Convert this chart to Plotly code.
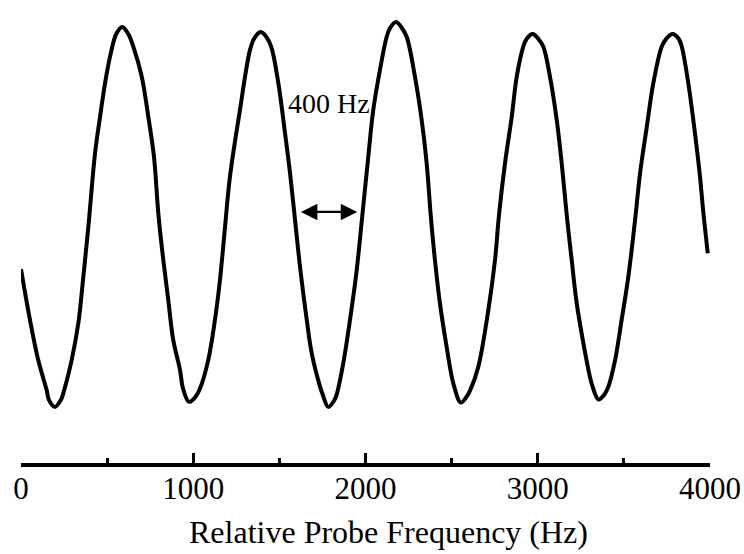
import plotly.graph_objects as go

# Relative probe frequency (Hz) and normalized signal
freq_hz = [0, 52, 100, 149, 162, 197, 232, 246, 294, 333, 362, 391, 430, 459, 488, 517,
           553, 588, 623, 652, 701, 739, 772, 798, 826, 855, 884, 923, 940, 975, 1010, 1039,
           1087, 1126, 1155, 1184, 1213, 1271, 1330, 1357, 1392, 1427, 1455, 1494, 1533,
           1562, 1591, 1620, 1659, 1688, 1736, 1749, 1784, 1819, 1833, 1871, 1910, 1949,
           1980, 2016, 2045, 2084, 2123, 2142, 2177, 2212, 2239, 2287, 2326, 2355, 2380,
           2403, 2432, 2471, 2510, 2553, 2588, 2607, 2655, 2713, 2752, 2775, 2810, 2849,
           2878, 2916, 2936, 2971, 3006, 3032, 3071, 3110, 3139, 3170, 3197, 3226, 3265,
           3303, 3317, 3352, 3387, 3410, 3449, 3487, 3526, 3565, 3594, 3633, 3671, 3720,
           3748, 3783, 3818, 3836, 3874, 3913, 3942, 3961, 3987]
signal = [0.361, 0.231, 0.128, 0.051, 0.026, 0.008, 0.026, 0.044, 0.128, 0.223, 0.342,
          0.470, 0.659, 0.752, 0.838, 0.906, 0.964, 0.982, 0.964, 0.932, 0.855, 0.752,
          0.649, 0.500, 0.385, 0.282, 0.179, 0.103, 0.056, 0.021, 0.032, 0.055, 0.128,
          0.231, 0.333, 0.467, 0.598, 0.769, 0.924, 0.955, 0.969, 0.955, 0.928, 0.838,
          0.709, 0.607, 0.487, 0.367, 0.231, 0.145, 0.060, 0.043, 0.008, 0.025, 0.040,
          0.120, 0.231, 0.359, 0.492, 0.649, 0.769, 0.872, 0.957, 0.979, 0.995, 0.979,
          0.957, 0.855, 0.744, 0.633, 0.492, 0.385, 0.274, 0.162, 0.068, 0.019, 0.035,
          0.050, 0.111, 0.256, 0.385, 0.500, 0.633, 0.752, 0.855, 0.932, 0.952, 0.964,
          0.950, 0.932, 0.855, 0.744, 0.633, 0.492, 0.385, 0.274, 0.171, 0.085, 0.062,
          0.027, 0.040, 0.060, 0.128, 0.231, 0.342, 0.487, 0.607, 0.726, 0.838, 0.932,
          0.953, 0.964, 0.952, 0.932, 0.838, 0.709, 0.598, 0.508, 0.402]

major_ticks = [0, 1000, 2000, 3000, 4000]
major_labels = ["0", "1000", "2000", "3000", "4000"]
minor_ticks = [500, 1500, 2500, 3500]

spacing_start_hz = 1616
spacing_end_hz = 1952
spacing_level = 0.508
spacing_label = "400 Hz"
spacing_label_hz = 1788
spacing_label_level = 0.785

x_title = "Relative Probe Frequency (Hz)"

FONT = "Liberation Serif, Times New Roman, serif"

fig = go.Figure()
fig.add_trace(go.Scatter(
    x=freq_hz, y=signal, mode="lines",
    line=dict(color="black", width=4, shape="spline", smoothing=1.0),
    hoverinfo="skip", showlegend=False,
))

fig.add_annotation(
    x=spacing_end_hz, y=spacing_level, ax=spacing_start_hz, ay=spacing_level,
    xref="x", yref="y", axref="x", ayref="y",
    text="", showarrow=True, arrowside="end+start",
    arrowhead=2, arrowsize=1.5, arrowwidth=2.2, arrowcolor="black",
    standoff=0, startstandoff=0,
)
fig.add_annotation(
    x=spacing_label_hz, y=spacing_label_level, xref="x", yref="y",
    text=spacing_label, showarrow=False,
    font=dict(family=FONT, size=28, color="black"),
)

# axis title placed as text below the axis (it sits slightly right of centre)
fig.add_annotation(
    x=0.533, y=-0.149, xref="paper", yref="paper",
    xanchor="center", yanchor="middle",
    text=x_title, showarrow=False,
    font=dict(family=FONT, size=32, color="black"),
)

fig.update_xaxes(
    range=[0, 4000], showgrid=False, zeroline=False,
    showline=True, linewidth=4, linecolor="black",
    ticks="inside", ticklen=10, tickwidth=3, tickcolor="black",
    tickvals=major_ticks, ticktext=major_labels,
    minor=dict(tickvals=minor_ticks, ticks="inside", ticklen=5, tickwidth=3,
               tickcolor="black", showgrid=False),
    tickfont=dict(family=FONT, size=31, color="black"),
    ticklabelstandoff=-5,
)
fig.update_yaxes(visible=False, range=[-0.1359, 1.0513], fixedrange=True)

fig.update_layout(
    width=744, height=554,
    margin=dict(l=21, r=34, t=0, b=91),
    paper_bgcolor="white", plot_bgcolor="white",
    showlegend=False,
)

fig.write_html("out.html")
